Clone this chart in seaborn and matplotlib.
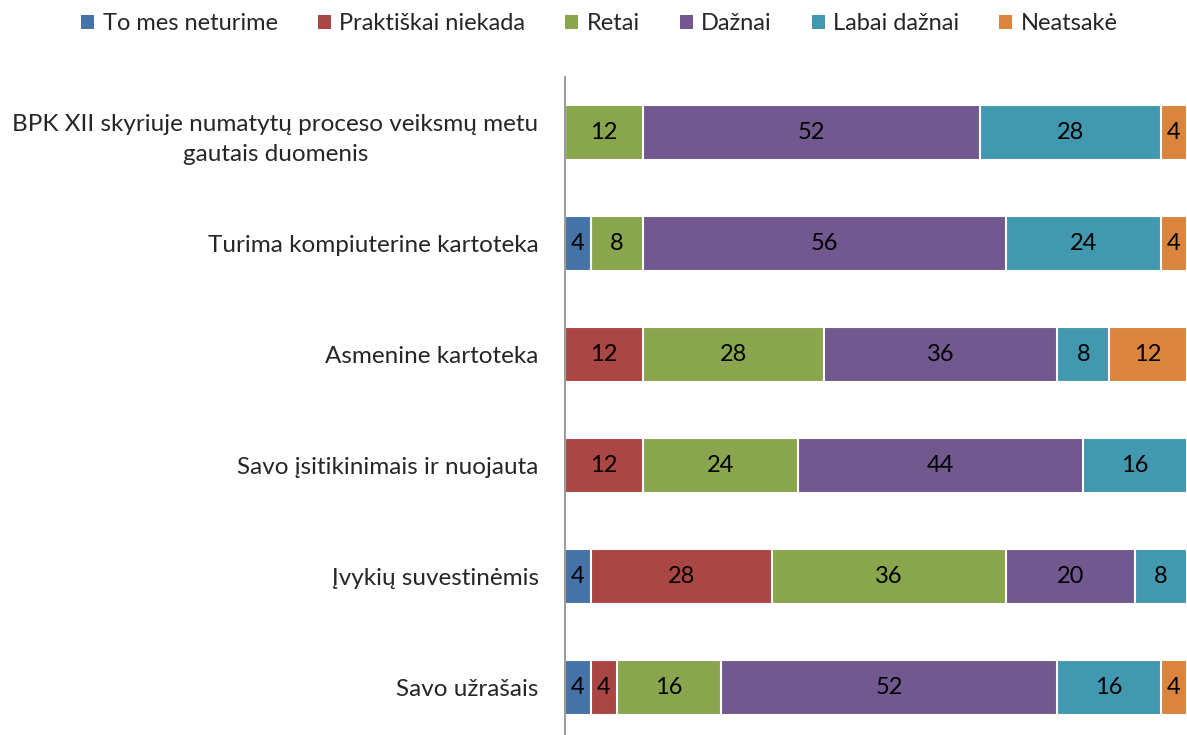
import numpy as np
import pandas as pd
import seaborn as sns
import matplotlib.pyplot as plt
from matplotlib.patches import Patch

categories = [
    "BPK XII skyriuje numatytų proceso veiksmų metu\ngautais duomenis",
    "Turima kompiuterine kartoteka",
    "Asmenine kartoteka",
    "Savo įsitikinimais ir nuojauta",
    "Įvykių suvestinėmis",
    "Savo užrašais",
]
series = ["To mes neturime", "Praktiškai niekada", "Retai", "Dažnai", "Labai dažnai", "Neatsakė"]

to_mes_neturime = [0, 4, 0, 0, 4, 4]
praktiskai_niekada = [0, 0, 12, 12, 28, 4]
retai = [12, 8, 28, 24, 36, 16]
dazniai = [52, 56, 36, 44, 20, 52]
labai_dazniai = [28, 24, 8, 16, 8, 16]
neatsake = [4, 4, 12, 0, 0, 4]

colors = ["#4572A7", "#AA4643", "#89A54E", "#71588F", "#4198AF", "#DB843D"]

sns.set_style("white")
plt.rcParams["font.family"] = ["Lato", "DejaVu Sans"]

values = np.array([to_mes_neturime, praktiskai_niekada, retai, dazniai, labai_dazniai, neatsake])
cum = values.cumsum(axis=0)

fig = plt.figure(figsize=(11.87, 7.35), dpi=100)
ax = fig.add_axes([0.476, -0.011, 0.524, 0.906])

# stacked bars: draw cumulative totals back to front
for i in range(len(series) - 1, -1, -1):
    df = pd.DataFrame({"cat": categories, "val": cum[i]})
    sns.barplot(data=df, x="val", y="cat", order=categories, orient="h",
                color=colors[i], saturation=1, width=0.5,
                edgecolor="white", linewidth=1.5, ax=ax)

for i in range(len(series)):
    for j, cat in enumerate(categories):
        v = values[i, j]
        if v > 0:
            ax.text(cum[i, j] - v / 2, j, str(v), ha="center", va="center",
                    fontsize=17, color="black")

ax.set_xlim(0, 96)
ax.set_ylim(len(categories) - 0.5, -0.5)
ax.set_xlabel("")
ax.set_ylabel("")
ax.set_xticks([])
for s in ["top", "right", "bottom"]:
    ax.spines[s].set_visible(False)
ax.spines["left"].set_color("#888888")
ax.spines["left"].set_linewidth(1.2)
ax.tick_params(axis="y", length=0, pad=19, labelsize=17.5)
for lbl in ax.get_yticklabels():
    lbl.set_multialignment("center")
    lbl.set_linespacing(1.55)

handles = [Patch(facecolor=c, edgecolor="none") for c in colors]
fig.legend(handles, series, loc="center", bbox_to_anchor=(0.505, 0.968), ncol=6,
           frameon=False, fontsize=17, handlelength=0.55, handleheight=0.55,
           handletextpad=0.35, columnspacing=1.7)

fig.savefig("out.png", dpi=100)
